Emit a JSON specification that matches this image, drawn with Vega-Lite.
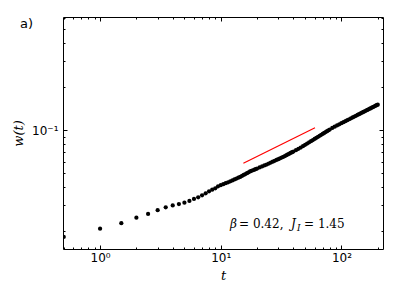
{
  "$schema": "https://vega.github.io/schema/vega-lite/v6.json",
  "width": 320,
  "height": 232,
  "autosize": {"type": "none"},
  "padding": {"left": 63, "top": 17, "right": 16, "bottom": 41},
  "background": "white",
  "config": {"view": {"stroke": "black", "strokeWidth": 1}},
  "title": {"text": "a)", "anchor": "start", "frame": "group", "font": "DejaVu Sans", "fontSize": 13, "fontWeight": "normal", "color": "black", "baseline": "top", "offset": 0, "dx": -43, "dy": 19},
  "resolve": {"axis": {"x": "independent", "y": "independent"}},
  "layer": [
    {
      "data": {"values": [
        {"t":0.5,"w":0.01806},{"t":1,"w":0.02064},{"t":1.5,"w":0.0225},{"t":2,"w":0.0246},{"t":2.5,"w":0.0261},{"t":3,"w":0.02773},{"t":3.5,"w":0.02905},{"t":4,"w":0.0299},{"t":4.5,"w":0.0306},{"t":5,"w":0.03127},{"t":5.5,"w":0.03213},{"t":6,"w":0.03318},{"t":6.5,"w":0.03409},{"t":7,"w":0.0352},{"t":7.5,"w":0.03634},{"t":8,"w":0.03752},{"t":8.5,"w":0.03849},{"t":9,"w":0.03936},{"t":9.5,"w":0.04064},
        {"t":10,"w":0.04137},{"t":10.5,"w":0.04205},{"t":11,"w":0.04271},{"t":11.5,"w":0.04334},{"t":12,"w":0.04398},{"t":12.5,"w":0.04466},{"t":13,"w":0.04532},{"t":13.5,"w":0.04596},{"t":14,"w":0.0466},{"t":14.5,"w":0.04724},{"t":15,"w":0.04799},{"t":15.5,"w":0.04871},{"t":16,"w":0.04943},{"t":16.5,"w":0.05013},{"t":17,"w":0.05083},{"t":17.5,"w":0.05151},{"t":18,"w":0.05203},{"t":18.5,"w":0.05253},{"t":19,"w":0.05302},{"t":19.5,"w":0.05351},{"t":20,"w":0.05398},
        {"t":21,"w":0.05492},{"t":22,"w":0.05582},{"t":23,"w":0.05669},{"t":24,"w":0.05754},{"t":25,"w":0.05846},{"t":26,"w":0.05936},{"t":27,"w":0.06023},{"t":28,"w":0.06108},{"t":29,"w":0.06192},{"t":30,"w":0.06273},{"t":31,"w":0.06353},{"t":32,"w":0.06431},{"t":33,"w":0.06509},{"t":34,"w":0.06596},{"t":35,"w":0.06682},{"t":36,"w":0.06766},{"t":37,"w":0.06849},{"t":38,"w":0.0693},{"t":39,"w":0.07012},{"t":40,"w":0.0709},
        {"t":42,"w":0.07244},{"t":44,"w":0.07396},{"t":46,"w":0.07551},{"t":48,"w":0.07719},{"t":50,"w":0.07886},{"t":52,"w":0.08048},{"t":54,"w":0.08209},{"t":56,"w":0.08366},{"t":58,"w":0.08519},{"t":60,"w":0.08672},{"t":62,"w":0.08821},{"t":64,"w":0.08969},{"t":66,"w":0.09115},{"t":68,"w":0.09256},{"t":70,"w":0.09397},{"t":72,"w":0.09537},{"t":74,"w":0.09674},{"t":76,"w":0.09808},{"t":78,"w":0.09943},{"t":80,"w":0.1007},
        {"t":84,"w":0.1034},{"t":88,"w":0.1055},{"t":92,"w":0.1076},{"t":96,"w":0.1096},{"t":100,"w":0.1115},{"t":104,"w":0.1134},{"t":108,"w":0.1152},{"t":112,"w":0.1171},{"t":116,"w":0.1188},{"t":120,"w":0.1206},{"t":124,"w":0.1223},{"t":128,"w":0.124},{"t":132,"w":0.1256},{"t":136,"w":0.1272},{"t":140,"w":0.1288},{"t":144,"w":0.1304},{"t":148,"w":0.1319},{"t":152,"w":0.1335},{"t":156,"w":0.1349},{"t":160,"w":0.1364},{"t":164,"w":0.1379},{"t":168,"w":0.1393},{"t":172,"w":0.1407},{"t":176,"w":0.1421},{"t":180,"w":0.1435},{"t":184,"w":0.1449},{"t":188,"w":0.1462},{"t":192,"w":0.1475},{"t":196,"w":0.1489},{"t":200,"w":0.1501}
      ]},
      "mark": {"type": "circle", "size": 18, "color": "black", "opacity": 1, "clip": true},
      "encoding": {
        "x": {"field": "t", "type": "quantitative", "scale": {"type": "log", "domain": [0.493, 221], "nice": false},
          "axis": {"orient": "bottom", "values": [0.5,0.6,0.7,0.8,0.9,1,2,3,4,5,6,7,8,9,10,20,30,40,50,60,70,80,90,100,200],
            "labelExpr": "datum.value == 1 ? '10⁰' : datum.value == 10 ? '10¹' : datum.value == 100 ? '10²' : ''",
            "labelFont": "DejaVu Sans", "labelFontSize": 12, "labelColor": "black", "labelPadding": 7,
            "labelOverlap": false, "labelFlush": false, "labelBound": false,
            "domain": false, "grid": false, "tickColor": "black", "tickWidth": 1,
            "tickSize": {"condition": {"test": "datum.value == 1 || datum.value == 10 || datum.value == 100", "value": -4}, "value": -2},
            "title": "t", "titleFont": "DejaVu Serif", "titleFontStyle": "italic", "titleFontWeight": "normal", "titleFontSize": 13, "titleColor": "black", "titlePadding": 4}},
        "y": {"field": "w", "type": "quantitative", "scale": {"type": "log", "domain": [0.0149, 0.61], "nice": false},
          "axis": {"orient": "left", "values": [0.02,0.03,0.04,0.05,0.06,0.07,0.08,0.09,0.1,0.2,0.3,0.4,0.5,0.6],
            "labelExpr": "datum.value == 0.1 ? '10⁻¹' : ''",
            "labelFont": "DejaVu Sans", "labelFontSize": 12, "labelColor": "black", "labelPadding": 9,
            "labelOverlap": false, "labelFlush": false, "labelBound": false,
            "domain": false, "grid": false, "tickColor": "black", "tickWidth": 1,
            "tickSize": {"condition": {"test": "datum.value == 0.1", "value": -4}, "value": -2},
            "title": "w(t)", "titleFont": "DejaVu Serif", "titleFontStyle": "italic", "titleFontWeight": "normal", "titleFontSize": 13, "titleColor": "black", "titlePadding": 6}}
      }
    },
    {
      "data": {"values": [{"t": 15.4, "w": 0.0587}, {"t": 60.4, "w": 0.1037}]},
      "mark": {"type": "line", "color": "#ff0000", "strokeWidth": 1.2, "clip": true},
      "encoding": {
        "x": {"field": "t", "type": "quantitative",
          "axis": {"orient": "top", "values": [0.5,0.6,0.7,0.8,0.9,1,2,3,4,5,6,7,8,9,10,20,30,40,50,60,70,80,90,100,200],
            "labels": false, "domain": false, "grid": false, "tickColor": "black", "tickWidth": 1,
            "tickSize": {"condition": {"test": "datum.value == 1 || datum.value == 10 || datum.value == 100", "value": -4}, "value": -2},
            "title": null}},
        "y": {"field": "w", "type": "quantitative",
          "axis": {"orient": "right", "values": [0.02,0.03,0.04,0.05,0.06,0.07,0.08,0.09,0.1,0.2,0.3,0.4,0.5,0.6],
            "labels": false, "domain": false, "grid": false, "tickColor": "black", "tickWidth": 1,
            "tickSize": {"condition": {"test": "datum.value == 0.1", "value": -4}, "value": -2},
            "title": null}}
      }
    },
    {
      "data": {"values": [{"t": 11.94, "w": 0.0209, "p1": "β", "p2": "= 0.42,", "p3": "J", "p4": "I", "p5": "= 1.45"}]},
      "encoding": {"x": {"field": "t", "type": "quantitative", "axis": null}, "y": {"field": "w", "type": "quantitative", "axis": null}},
      "layer": [
        {"mark": {"type": "text", "align": "left", "baseline": "alphabetic", "font": "DejaVu Serif", "fontSize": 12, "fontStyle": "italic", "color": "black", "dx": 0},
         "encoding": {"text": {"field": "p1"}}},
        {"mark": {"type": "text", "align": "left", "baseline": "alphabetic", "font": "DejaVu Serif", "fontSize": 12, "color": "black", "dx": 9},
         "encoding": {"text": {"field": "p2"}}},
        {"mark": {"type": "text", "align": "left", "baseline": "alphabetic", "font": "DejaVu Serif", "fontSize": 12, "fontStyle": "italic", "color": "black", "dx": 61},
         "encoding": {"text": {"field": "p3"}}},
        {"mark": {"type": "text", "align": "left", "baseline": "alphabetic", "font": "DejaVu Serif", "fontSize": 9, "fontStyle": "italic", "color": "black", "dx": 67, "dy": 3},
         "encoding": {"text": {"field": "p4"}}},
        {"mark": {"type": "text", "align": "left", "baseline": "alphabetic", "font": "DejaVu Serif", "fontSize": 12, "color": "black", "dx": 74},
         "encoding": {"text": {"field": "p5"}}}
      ]
    }
  ]
}
